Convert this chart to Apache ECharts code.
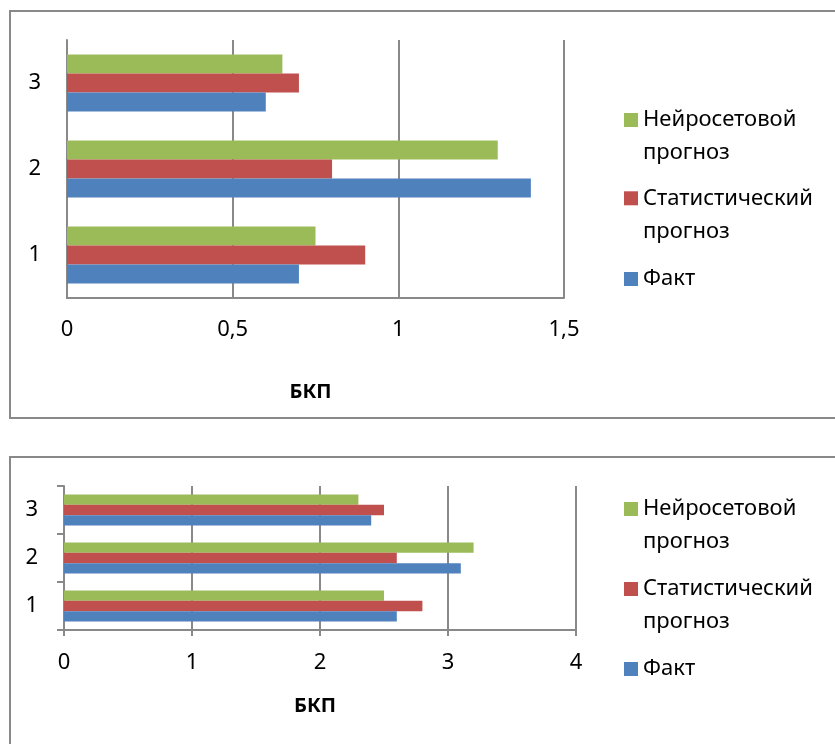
<!DOCTYPE html>
<html>
<head>
<meta charset="utf-8">
<script src="https://cdn.jsdelivr.net/npm/echarts@6/dist/echarts.min.js"></script>
<style>
html,body{margin:0;padding:0;background:#fff;}
#main{width:835px;height:744px;}
</style>
</head>
<body>
<div id="main"></div>
<script>
// ---- data ----
const categories = ['1', '2', '3'];
const seriesNames = ['Нейросетовой прогноз', 'Статистический прогноз', 'Факт'];
const legendLabels = ['Нейросетовой\nпрогноз', 'Статистический\nпрогноз', 'Факт'];
const axisTitle = 'БКП';

// chart 1 (top)
const neuro1 = [0.75, 1.3, 0.65];
const stat1 = [0.9, 0.8, 0.7];
const fact1 = [0.7, 1.4, 0.6];
const xTicks1 = [0, 0.5, 1, 1.5];

// chart 2 (bottom)
const neuro2 = [2.5, 3.2, 2.3];
const stat2 = [2.8, 2.6, 2.5];
const fact2 = [2.6, 3.1, 2.4];
const xTicks2 = [0, 1, 2, 3, 4];

const colors = ['#9BBB59', '#C0504D', '#4F81BD'];
const gridGray = '#898989';
const FONT = '"Noto Sans", "DejaVu Sans", sans-serif';

const chart = echarts.init(document.getElementById('main'), null, {renderer: 'canvas'});

function xAxisDef(gridIndex, ticks, showTick, labelMargin, nameGap) {
  return {
    type: 'value', gridIndex: gridIndex,
    min: ticks[0], max: ticks[ticks.length - 1], interval: ticks[1] - ticks[0],
    name: axisTitle, nameLocation: 'middle', nameGap: nameGap,
    nameTextStyle: {fontFamily: FONT, fontSize: 20, fontWeight: 'bold', color: '#000', padding: [0, 10, 0, 0]},
    axisLine: {show: true, lineStyle: {color: gridGray, width: 2}},
    axisTick: {show: showTick, length: 6, lineStyle: {color: gridGray, width: 2}},
    splitLine: {show: true, lineStyle: {color: gridGray, width: 2}},
    axisLabel: {
      fontFamily: FONT, fontSize: 22, color: '#000', margin: labelMargin,
      formatter: v => String(v).replace('.', ',')
    }
  };
}
function yAxisDef(gridIndex, showTick) {
  return {
    type: 'category', gridIndex: gridIndex, data: categories,
    axisLine: {show: true, lineStyle: {color: gridGray, width: 2}},
    axisTick: {show: showTick, length: 7, lineStyle: {color: gridGray, width: 2}},
    axisLabel: {fontFamily: FONT, fontSize: 22, color: '#000', margin: 26}
  };
}
function barSeries(name, data, idx, color, width) {
  return {
    type: 'bar', name: name, data: data,
    xAxisIndex: idx, yAxisIndex: idx,
    barWidth: width, barGap: '0%',
    itemStyle: {color: color},
    emphasis: {disabled: true}
  };
}
// Two-line labels get an empty leading line so the icon lines up with the first text line.
function legendDef(i, top) {
  const twoLine = legendLabels[i].indexOf('\n') >= 0;
  return {
    show: true, left: 624, top: top, padding: 0,
    itemWidth: 14, itemHeight: 14, icon: 'rect',
    selectedMode: false,
    data: [seriesNames[i]],
    formatter: () => (twoLine ? ' \n' : '') + legendLabels[i],
    textStyle: {fontFamily: FONT, fontSize: 22, color: '#000', lineHeight: 33}
  };
}

const option = {
  animation: false,
  backgroundColor: '#fff',
  graphic: [
    {type: 'rect', shape: {x: 10, y: 11, width: 900, height: 407}, style: {fill: 'none', stroke: gridGray, lineWidth: 2}, silent: true},
    {type: 'rect', shape: {x: 10, y: 457, width: 900, height: 400}, style: {fill: 'none', stroke: gridGray, lineWidth: 2}, silent: true}
  ],
  grid: [
    {left: 67, top: 40, width: 497, height: 258, containLabel: false},
    {left: 64, top: 486, width: 512, height: 144, containLabel: false}
  ],
  xAxis: [
    xAxisDef(0, xTicks1, false, 21, 84),
    xAxisDef(1, xTicks2, true, 22, 66)
  ],
  yAxis: [
    yAxisDef(0, false),
    yAxisDef(1, true)
  ],
  legend: [
    legendDef(0, 70.5), legendDef(1, 148.8), legendDef(2, 262.5),
    legendDef(0, 459.5), legendDef(1, 539.5), legendDef(2, 652.5)
  ],
  series: [
    barSeries(seriesNames[0], neuro1, 0, colors[0], 19),
    barSeries(seriesNames[1], stat1, 0, colors[1], 19),
    barSeries(seriesNames[2], fact1, 0, colors[2], 19),
    barSeries(seriesNames[0], neuro2, 1, colors[0], 10.4),
    barSeries(seriesNames[1], stat2, 1, colors[1], 10.4),
    barSeries(seriesNames[2], fact2, 1, colors[2], 10.4)
  ]
};
chart.setOption(option);
</script>
</body>
</html>
